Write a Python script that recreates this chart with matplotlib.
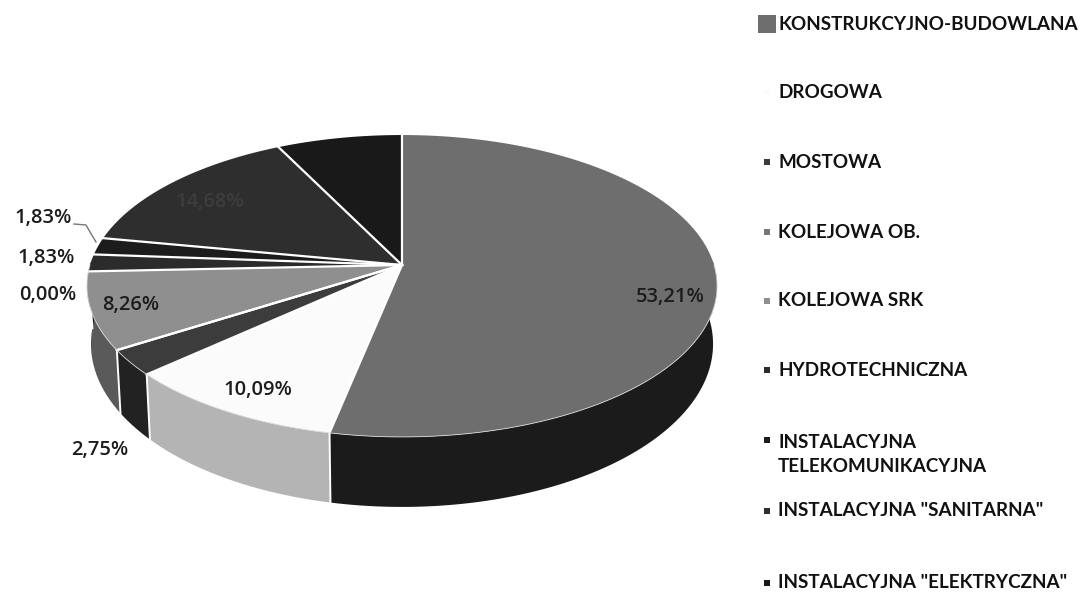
import numpy as np
import matplotlib
matplotlib.use('Agg')
import matplotlib.pyplot as plt

categories = ['KONSTRUKCYJNO-BUDOWLANA', 'DROGOWA', 'MOSTOWA', 'KOLEJOWA OB.', 'KOLEJOWA SRK',
              'HYDROTECHNICZNA', 'INSTALACYJNA\nTELEKOMUNIKACYJNA', 'INSTALACYJNA "SANITARNA"',
              'INSTALACYJNA "ELEKTRYCZNA"']
values = [53.21, 10.09, 2.75, 0.00, 8.26, 1.83, 1.83, 14.68, 7.34]
top_colors = ['#6e6e6e', '#fbfbfb', '#3c3c3c', '#777777', '#8f8f8f', '#2b2b2b', '#1c1c1c', '#2e2e2e', '#191919']
side_colors = ['#1b1b1b', '#b4b4b4', '#222222', '#555555', '#5a5a5a', '#222222', '#151515', '#222222', '#111111']


# circle -> screen, the pie is drawn in perspective so the apex is not the ellipse centre
def project(t):
    u, v = np.cos(t), np.sin(t)
    c = 0.139
    d = 1 + c*v
    return 402 + 312*u/d, (265 - 111.2*v)/d


def bottom(x, y):
    return 402 + (x - 402)*311/315, 344 + (y - 286)*163/151


fig = plt.figure(figsize=(10.81, 5.93), dpi=100)
ax = fig.add_axes([0, 0, 1, 1])
ax.set_xlim(0, 1081)
ax.set_ylim(593, 0)
ax.axis('off')

fracs = np.array(values)/sum(values)
edges = np.pi/2 - 2*np.pi*np.concatenate([[0], np.cumsum(fracs)])

# side wall first, only the front half can be seen
for i in range(len(values)):
    a0, a1 = edges[i], edges[i+1]
    if a0 == a1:
        continue
    a0v = min(a0, 0.03)
    a1v = max(a1, -np.pi - 0.03)
    if a0v <= a1v:
        continue
    t = np.linspace(a0v, a1v, 80)
    x, y = project(t)
    xb, yb = bottom(x, y)
    ax.fill(np.r_[x, xb[::-1]], np.r_[y, yb[::-1]], color=side_colors[i], lw=0, zorder=2)
    if i > 0:
        ax.plot([x[0], xb[0]], [y[0], yb[0]], color='white', lw=1.4, zorder=3)

# top face, white only on the radial edges
for i in range(len(values)):
    a0, a1 = edges[i], edges[i+1]
    if a0 == a1:
        continue
    x, y = project(np.linspace(a0, a1, 120))
    ax.fill(np.r_[402, x], np.r_[265, y], color=top_colors[i], lw=0, zorder=4)
for a in edges[:-1]:
    x, y = project(a)
    ax.plot([402, x], [265, y], color='white', lw=1.6, zorder=5)
rx, ry = project(np.linspace(0, -np.pi, 200))
ax.plot(rx, ry, color='#d8d8d8', lw=0.6, zorder=5)

label_font = dict(family='Open Sans', fontsize=14.5, fontweight='semibold', color='#1c1c1c',
                  ha='center', va='center', zorder=6)
ax.text(670, 297, '53,21%', **label_font)
ax.text(258, 390, '10,09%', **label_font)
ax.text(100, 450, '2,75%', **label_font)
ax.text(48, 295, '0,00%', **label_font)
ax.text(131, 305, '8,26%', **label_font)
ax.text(46, 258, '1,83%', **label_font)
ax.text(43, 218, '1,83%', **label_font)
ax.text(210, 202, '14,68%', family='Open Sans', fontsize=14.5, fontweight='semibold', color='#3d3d3d',
        ha='center', va='center', zorder=6)
ax.plot([74, 86, 90, 96], [224, 225, 232, 242], color='#777777', lw=1, zorder=6)

legend_y = [24, 92, 162, 232, 301, 370, 454.5, 511, 583]
for i in range(len(categories)):
    ax.text(778, legend_y[i], categories[i], family='Lato', fontsize=13.6, fontweight='bold',
            color='#111111', ha='left', va='center', linespacing=1.55)
    if i == 0:
        ax.scatter(767, legend_y[i], marker='s', s=150, color=top_colors[i], lw=0)
    else:
        my = legend_y[i] if i != 6 else 440
        ax.scatter(767, my, marker='s', s=22, color=top_colors[i], lw=0)

fig.savefig('out.png', dpi=100)
